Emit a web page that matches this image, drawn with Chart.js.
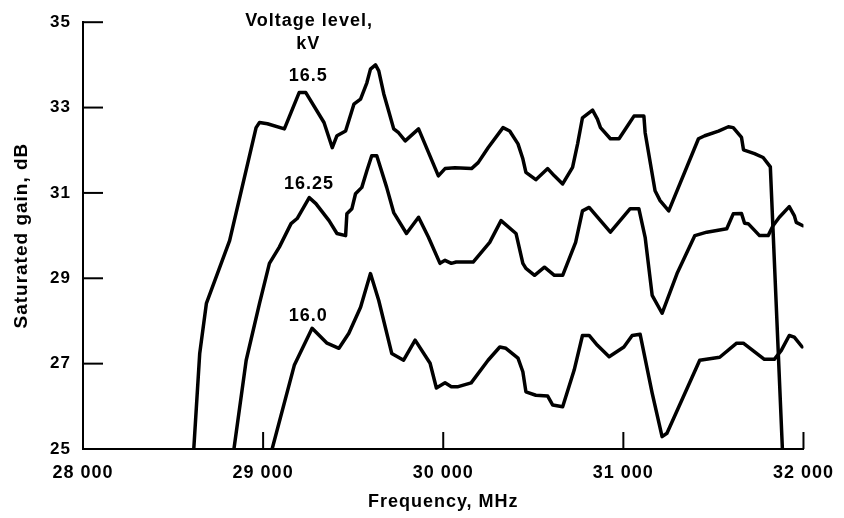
<!DOCTYPE html>
<html>
<head>
<meta charset="utf-8">
<script src="https://cdn.jsdelivr.net/npm/chart.js@4.4.1/dist/chart.umd.min.js"></script>
<style>
  html, body { margin: 0; padding: 0; background: #fff; }
  canvas { display: block; }
</style>
</head>
<body>
<canvas id="gainChart" width="844" height="518"></canvas>
<script>
// Saturated gain versus frequency at three beam voltage levels

// 16.5 kV
const freq165 = [28615, 28648, 28685, 28814, 28961, 28980, 29024, 29118, 29200, 29237,
  29338, 29384, 29410, 29458, 29504, 29541, 29576, 29596, 29624, 29642,
  29670, 29697, 29725, 29752, 29789, 29863, 29973, 30010, 30065, 30157,
  30194, 30249, 30332, 30369, 30415, 30442, 30459, 30514, 30580, 30617,
  30663, 30718, 30746, 30773, 30829, 30856, 30873, 30928, 30976, 31031,
  31059, 31114, 31121, 31176, 31204, 31252, 31417, 31452, 31528, 31583,
  31610, 31656, 31667, 31728, 31776, 31816, 31883];
const gain165 = [25.0, 27.24, 28.41, 29.88, 32.53, 32.65, 32.62, 32.50, 33.35, 33.35,
  32.65, 32.06, 32.34, 32.45, 33.08, 33.20, 33.58, 33.90, 34.00, 33.86,
  33.32, 32.92, 32.50, 32.41, 32.22, 32.50, 31.40, 31.57, 31.59, 31.57,
  31.71, 32.06, 32.53, 32.45, 32.15, 31.80, 31.48, 31.31, 31.57, 31.40,
  31.21, 31.60, 32.15, 32.76, 32.94, 32.73, 32.53, 32.27, 32.27, 32.62,
  32.80, 32.80, 32.41, 31.05, 30.82, 30.58, 32.27, 32.34, 32.45, 32.55,
  32.53, 32.30, 32.01, 31.92, 31.83, 31.61, 25.0];

// 16.25 kV
const freq1625 = [28838, 28906, 28980, 29035, 29090, 29155, 29189, 29256, 29293, 29366,
  29410, 29458, 29465, 29493, 29513, 29548, 29576, 29603, 29631, 29686,
  29725, 29796, 29863, 29918, 29982, 30010, 30045, 30072, 30166, 30258,
  30321, 30404, 30442, 30459, 30507, 30562, 30617, 30663, 30735, 30773,
  30810, 30928, 31038, 31086, 31121, 31160, 31215, 31298, 31397, 31463,
  31574, 31610, 31656, 31673, 31693, 31756, 31804, 31831, 31866, 31921,
  31949, 31960, 31997];
const gain1625 = [25.0, 27.08, 28.41, 29.35, 29.73, 30.28, 30.40, 30.89, 30.75, 30.35,
  30.05, 30.00, 30.51, 30.63, 30.98, 31.13, 31.52, 31.87, 31.87, 31.13,
  30.54, 30.05, 30.43, 29.96, 29.35, 29.42, 29.35, 29.38, 29.38, 29.84,
  30.35, 30.05, 29.35, 29.23, 29.07, 29.26, 29.07, 29.07, 29.84, 30.58,
  30.66, 30.08, 30.63, 30.63, 29.96, 28.60, 28.18, 29.11, 30.00, 30.08,
  30.16, 30.51, 30.52, 30.29, 30.28, 30.00, 30.00, 30.23, 30.43, 30.68,
  30.47, 30.31, 30.23];

// 16.0 kV
const freq160 = [29050, 29173, 29272, 29355, 29421, 29476, 29541, 29596, 29642, 29714,
  29780, 29844, 29927, 29962, 30010, 30045, 30083, 30155, 30249, 30314,
  30348, 30415, 30442, 30459, 30514, 30580, 30608, 30663, 30727, 30773,
  30810, 30856, 30921, 31003, 31049, 31093, 31160, 31215, 31242, 31424,
  31535, 31629, 31666, 31783, 31838, 31877, 31921, 31949, 31993];
const gain160 = [25.0, 26.96, 27.83, 27.48, 27.36, 27.71, 28.32, 29.11, 28.48, 27.24,
  27.08, 27.55, 27.01, 26.43, 26.55, 26.46, 26.46, 26.55, 27.08, 27.39,
  27.36, 27.13, 26.81, 26.34, 26.26, 26.24, 26.03, 25.99, 26.85, 27.66,
  27.66, 27.43, 27.16, 27.39, 27.66, 27.69, 26.31, 25.29, 25.37, 27.08,
  27.15, 27.48, 27.48, 27.10, 27.10, 27.31, 27.66, 27.62, 27.39];

// Axis ticks
const xTicks = [28000, 29000, 30000, 31000, 32000];
const yTicks = [25, 27, 29, 31, 33, 35];

// Curve labels (placed in data units: MHz, dB)
const labelTexts = ['Voltage level,', 'kV', '16.5', '16.25', '16.0'];
const labelFreqs = [29255, 29250, 29250, 29255, 29250];
const labelGains = [34.91, 34.37, 33.62, 31.10, 28.01];

const FONT = '"Liberation Sans", Arial, Helvetica, sans-serif';
Chart.defaults.font.family = FONT;
Chart.defaults.color = '#000';

function toPoints(xs, ys) {
  return xs.map((v, i) => ({ x: v, y: ys[i] }));
}

function curve(label, xs, ys) {
  return {
    label,
    data: toPoints(xs, ys),
    showLine: true,
    borderColor: '#000',
    backgroundColor: '#000',
    borderWidth: 3.5,
    borderJoinStyle: 'round',
    borderCapStyle: 'round',
    pointRadius: 0,
    pointHoverRadius: 0,
    tension: 0,
    fill: false
  };
}

// Inward tick marks plus the text labels beside the curves
const annotate = {
  id: 'annotate',
  beforeDraw(chart) {
    chart.ctx.letterSpacing = '1px';
  },
  afterDatasetsDraw(chart) {
    const { ctx, scales: { x, y } } = chart;
    ctx.save();
    ctx.strokeStyle = '#000';
    ctx.lineWidth = 2;
    ctx.lineCap = 'butt';
    xTicks.forEach(v => {
      const px = x.getPixelForValue(v);
      ctx.beginPath();
      ctx.moveTo(px, y.bottom);
      ctx.lineTo(px, y.bottom - 17);
      ctx.stroke();
    });
    yTicks.forEach(v => {
      const py = y.getPixelForValue(v);
      ctx.beginPath();
      ctx.moveTo(x.left, py);
      ctx.lineTo(x.left + 20, py);
      ctx.stroke();
    });
    ctx.fillStyle = '#000';
    ctx.font = 'bold 18px ' + FONT;
    ctx.textAlign = 'center';
    ctx.textBaseline = 'alphabetic';
    labelTexts.forEach((t, i) => {
      ctx.fillText(t, x.getPixelForValue(labelFreqs[i]), y.getPixelForValue(labelGains[i]));
    });
    ctx.restore();
  }
};

new Chart(document.getElementById('gainChart'), {
  type: 'scatter',
  data: {
    datasets: [
      curve('16.5', freq165, gain165),
      curve('16.25', freq1625, gain1625),
      curve('16.0', freq160, gain160)
    ]
  },
  options: {
    responsive: false,
    devicePixelRatio: 1,
    animation: false,
    events: [],
    layout: { padding: { top: 21, right: 37, left: 0, bottom: 0 } },
    plugins: {
      legend: { display: false },
      tooltip: { enabled: false }
    },
    scales: {
      x: {
        type: 'linear',
        min: 28000,
        max: 32000,
        afterFit(scale) { scale.height = 69; },
        afterBuildTicks(scale) { scale.ticks = xTicks.map(v => ({ value: v })); },
        grid: { display: false, drawTicks: false },
        border: { display: true, color: '#000', width: 2 },
        ticks: {
          padding: 13,
          maxRotation: 0,
          autoSkip: false,
          font: { size: 18, weight: 'bold' },
          callback: v => String(v).replace(/\B(?=(\d{3})+(?!\d))/g, ' ')
        },
        title: {
          display: true,
          text: 'Frequency, MHz',
          font: { size: 18, weight: 'bold' },
          padding: { top: 0, bottom: 5 }
        }
      },
      y: {
        type: 'linear',
        min: 25,
        max: 35,
        afterFit(scale) { scale.width = 83; },
        afterBuildTicks(scale) { scale.ticks = yTicks.map(v => ({ value: v })); },
        grid: { display: false, drawTicks: false },
        border: { display: true, color: '#000', width: 2 },
        ticks: {
          padding: 12,
          autoSkip: false,
          font: { size: 17, weight: 'bold' }
        },
        title: {
          display: true,
          text: 'Saturated gain, dB',
          font: { size: 19, weight: 'bold' },
          padding: { top: 10, bottom: 0 }
        }
      }
    }
  },
  plugins: [annotate]
});
</script>
</body>
</html>
